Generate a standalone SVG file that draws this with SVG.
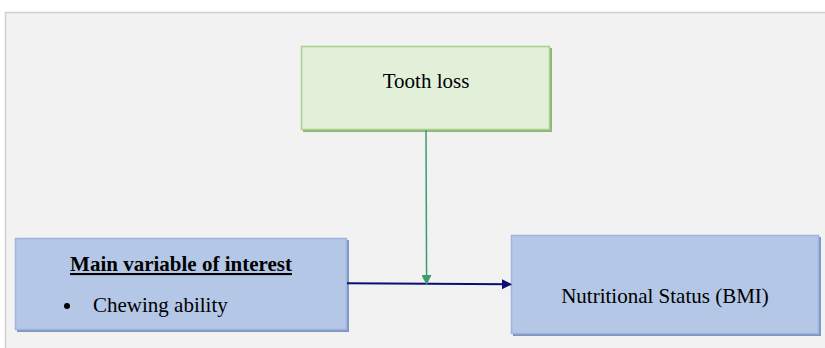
<svg xmlns="http://www.w3.org/2000/svg" width="825" height="348" viewBox="0 0 825 348">
<defs>
<style>
.t{font-family:"Liberation Serif","Times New Roman",serif;font-size:21px;fill:#000}
.blue{fill:#b4c7e7;stroke:#9db5df;stroke-width:1.5}
.green{fill:#e2efd9;stroke:#a9d18e;stroke-width:1.5}
</style>
<marker id="an" viewBox="0 0 10 10" refX="9" refY="5" markerWidth="10" markerHeight="10" markerUnits="userSpaceOnUse" orient="auto"><path d="M0,0L10,5L0,10Z" fill="#0d0d73"/></marker>
<marker id="ag" viewBox="0 0 10 10" refX="9" refY="5" markerWidth="10" markerHeight="10" markerUnits="userSpaceOnUse" orient="auto"><path d="M0,0L10,5L0,10Z" fill="#3c9c6c"/></marker>
</defs>
<rect width="825" height="348" fill="#fff"/>
<rect x="5.5" y="12.5" width="830" height="340" fill="#f2f2f2" stroke="#d0d0d0" stroke-width="1.5"/>
<g id="tooth-loss">
<rect x="303" y="48" width="249" height="84" fill="#8fb57a"/>
<rect class="green" x="301.5" y="46.5" width="248" height="83"/>
<text class="t" x="426" y="88" text-anchor="middle">Tooth loss</text>
</g>
<g id="main-variable">
<rect x="17" y="240" width="332" height="92" fill="#7f97bf"/>
<rect class="blue" x="15.5" y="238.5" width="331" height="91"/>
<text class="t" x="181" y="271" text-anchor="middle" font-weight="bold" text-decoration="underline">Main variable of interest</text>
<circle cx="67" cy="306" r="3" fill="#000"/>
<text class="t" x="93" y="312">Chewing ability</text>
</g>
<g id="nutritional-status">
<rect x="513" y="237" width="308" height="99" fill="#7f97bf"/>
<rect class="blue" x="511.5" y="235.5" width="307" height="98"/>
<text class="t" x="665" y="303" text-anchor="middle">Nutritional Status (BMI)</text>
</g>
<g id="connectors">
<line x1="347" y1="283.3" x2="511" y2="284.3" stroke="#0d0d73" stroke-width="2" marker-end="url(#an)"/>
<line x1="426" y1="130" x2="426.6" y2="284" stroke="#3c9c6c" stroke-width="1.5" marker-end="url(#ag)"/>
</g>
</svg>
